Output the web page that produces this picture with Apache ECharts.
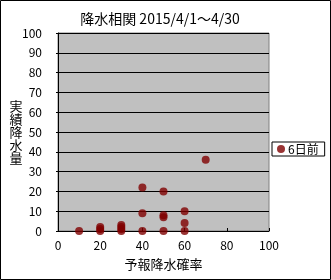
<!DOCTYPE html>
<html><head><meta charset="utf-8">
<script src="https://cdn.jsdelivr.net/npm/echarts@6/dist/echarts.min.js"></script>
<style>html,body{margin:0;padding:0;background:#fff}#c{width:331px;height:280px}</style>
</head><body><div id="c"></div>
<script>
const titleText = '降水相関 2015/4/1～4/30';
const seriesName = '6日前';
const xName = '予報降水確率';
const yName = '実績降水量';
const forecastPct = [10, 20, 20, 20, 30, 30, 30, 30, 40, 40, 40, 50, 50, 50, 50, 60, 60, 60, 70];
const actualMm    = [0,  0,  1,  2,  0,  1,  2,  3,  0,  9,  22, 0,  7,  8,  20, 0,  4,  10, 36];
const xTicks = [0, 20, 40, 60, 80, 100];
const yTicks = [0, 10, 20, 30, 40, 50, 60, 70, 80, 90, 100];

const font = '"Noto Sans CJK JP", sans-serif';
const chart = echarts.init(document.getElementById('c'), null, {renderer: 'canvas'});
chart.setOption({
  animation: false,
  backgroundColor: '#fff',
  textStyle: {fontFamily: font},
  title: {text: titleText, left: 155, top: 7, textAlign: 'center',
    textStyle: {fontSize: 14, fontWeight: 'normal', color: '#000', fontFamily: font}},
  grid: {left: 58, top: 33, width: 211, height: 198, show: true,
    backgroundColor: '#c0c0c0', borderColor: '#808080', borderWidth: 1},
  legend: {left: 272, top: 142, orient: 'vertical', data: [seriesName],
    backgroundColor: '#fff', borderColor: '#000', borderWidth: 1,
    padding: [1, 6, 1, 5], itemWidth: 8, itemHeight: 8, itemGap: 4,
    textStyle: {fontSize: 12, color: '#000', fontFamily: font, padding: [0, 0, 0, -2]}},
  xAxis: {type: 'value', min: xTicks[0], max: xTicks[xTicks.length - 1], interval: 20,
    name: xName, nameLocation: 'middle', nameGap: 27, nameMoveOverlap: false,
    nameTextStyle: {fontSize: 13, color: '#000', fontFamily: font},
    axisLine: {show: true, lineStyle: {color: '#000', width: 1}},
    axisTick: {show: true, inside: true, length: 3, lineStyle: {color: '#000'}},
    axisLabel: {fontSize: 12, color: '#000', margin: 8, fontFamily: font},
    splitLine: {show: false}},
  yAxis: {type: 'value', min: yTicks[0], max: yTicks[yTicks.length - 1], interval: 10,
    name: yName.split('').join('\n'), nameLocation: 'middle', nameGap: 42, nameRotate: 0,
    nameMoveOverlap: false,
    nameTextStyle: {fontSize: 13, color: '#000', lineHeight: 13, fontFamily: font,
      align: 'center', verticalAlign: 'middle'},
    axisLine: {show: true, lineStyle: {color: '#000', width: 1}},
    axisTick: {show: true, length: 2, lineStyle: {color: '#000'}},
    axisLabel: {fontSize: 12, color: '#000', margin: 16, fontFamily: font},
    splitLine: {show: true, lineStyle: {color: '#000', width: 1}}},
  series: [{name: seriesName, type: 'scatter', symbol: 'circle', symbolSize: 8,
    itemStyle: {color: '#800000'}, clip: false,
    data: forecastPct.map((x, i) => [x, actualMm[i]])}],
  graphic: [{type: 'rect', shape: {x: 0.5, y: 0.5, width: 330, height: 279},
    style: {fill: null, stroke: '#000', lineWidth: 1}, z: 100}]
});
</script></body></html>
